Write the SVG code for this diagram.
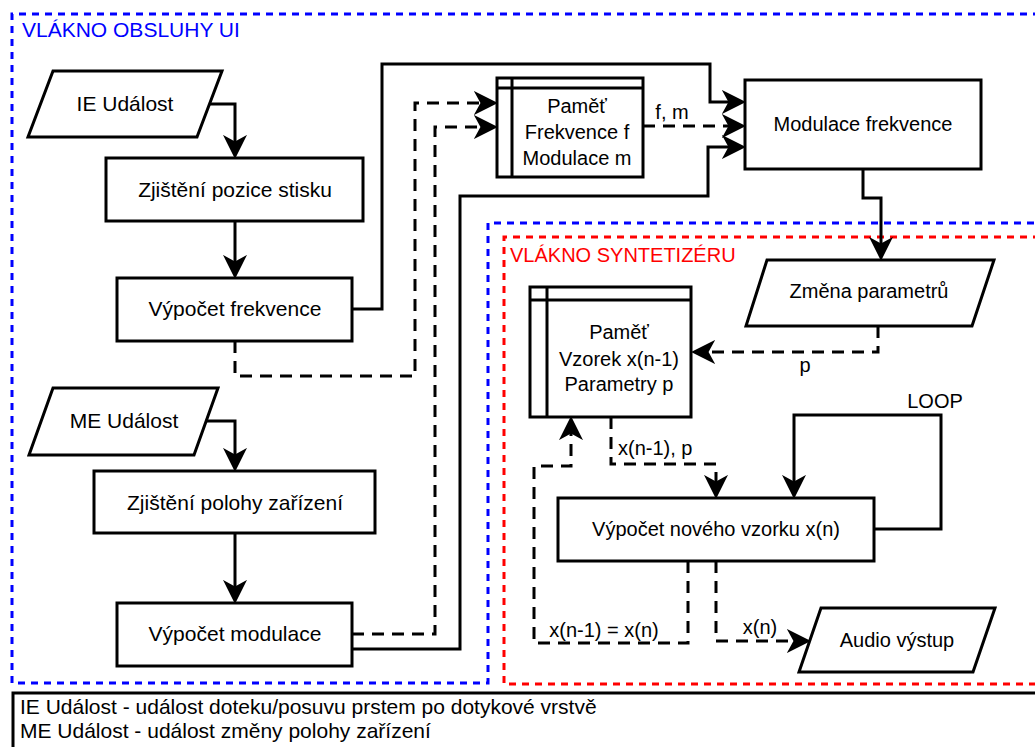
<svg xmlns="http://www.w3.org/2000/svg" width="1035" height="747" viewBox="0 0 1035 747">
  <style>
    text { font-family: "Liberation Sans", Arial, sans-serif; font-size: 20px; fill: #000; }
    .c { text-anchor: middle; }
    .big { font-size: 21px; }
    .shape { fill: #fff; stroke: #000; stroke-width: 3; }
    .inner { fill: none; stroke: #000; stroke-width: 3; }
    .flow { fill: none; stroke: #000; stroke-width: 3; marker-end: url(#arrow); }
    .dash { stroke-dasharray: 12 8; }
    .zone { fill: none; stroke-width: 3; stroke-dasharray: 7 6; }
  </style>
  <defs>
    <marker id="arrow" markerUnits="userSpaceOnUse" markerWidth="24" markerHeight="24" viewBox="0 0 22 22" refX="12" refY="11" orient="auto">
      <path d="M22,11 L0,0 L6,11 L0,22 Z" fill="#000"/>
    </marker>
  </defs>

  <rect width="1035" height="747" fill="#fff"/>

  <!-- thread zones -->
  <g id="zone-ui">
    <path class="zone" stroke="#0000ff" d="M1040,14 H12 V683 H488 V223 H1040"/>
    <text x="22" y="37" class="big" style="fill:#0000ff">VLÁKNO OBSLUHY UI</text>
  </g>
  <g id="zone-synth">
    <path class="zone" stroke="#ff0000" d="M1040,237 H504 V684 H1040"/>
    <text x="510" y="262" style="fill:#ff0000">VLÁKNO SYNTETIZÉRU</text>
  </g>

  <!-- connectors -->
  <g id="connectors">
    <path class="flow" d="M210,104 H235 V148"/>
    <path class="flow" d="M235,221 V268"/>
    <path class="flow" d="M352,309 H382 V64 H710 V102 H735"/>
    <path class="flow dash" d="M235,341 V376 H415 V103 H487"/>
    <path class="flow" d="M206,421 H235 V461"/>
    <path class="flow" d="M235,533 V593"/>
    <path class="flow dash" d="M352,634 H435 V127 H487"/>
    <path class="flow" d="M352,649 H460 V196 H708 V147 H735"/>
    <path class="flow dash" d="M643,126 H735"/>
    <text x="672" y="119" class="c">f, m</text>
    <path class="flow" d="M863,169 V198 H881 V250"/>
    <path class="flow dash" d="M878,326 V352 H702"/>
    <text x="805" y="372" class="c">p</text>
    <path class="flow dash" d="M611,417 V464 H716 V488"/>
    <text x="618" y="455">x(n-1), p</text>
    <path class="flow" d="M874,529 H941 V415 H794 V488"/>
    <text x="935" y="408" class="c">LOOP</text>
    <path class="flow dash" d="M688,561 V643 H534 V466 H571 V427"/>
    <text x="604" y="637" class="c">x(n-1) = x(n)</text>
    <path class="flow dash" d="M716,561 V641 H800"/>
    <text x="760" y="634" class="c">x(n)</text>
  </g>

  <!-- UI thread nodes -->
  <g id="ie-udalost">
    <polygon class="shape" points="53,71 222,71 197,137 28,137"/>
    <text x="125" y="111" class="c big">IE Událost</text>
  </g>
  <g id="zjisteni-pozice">
    <rect class="shape" x="106" y="158" width="257" height="63"/>
    <text x="235" y="197" class="c big">Zjištění pozice stisku</text>
  </g>
  <g id="vypocet-frekvence">
    <rect class="shape" x="117" y="278" width="235" height="63"/>
    <text x="235" y="316" class="c big">Výpočet frekvence</text>
  </g>
  <g id="me-udalost">
    <polygon class="shape" points="53,388 218,388 194,455 29,455"/>
    <text x="124" y="428" class="c big">ME Událost</text>
  </g>
  <g id="zjisteni-polohy">
    <rect class="shape" x="94" y="471" width="281" height="62"/>
    <text x="235" y="510" class="c big">Zjištění polohy zařízení</text>
  </g>
  <g id="vypocet-modulace">
    <rect class="shape" x="117" y="603" width="235" height="63"/>
    <text x="235" y="641" class="c big">Výpočet modulace</text>
  </g>
  <g id="pamet-ui">
    <rect class="shape" x="497" y="78" width="146" height="99"/>
    <path class="inner" d="M512,78 V177 M497,88 H643"/>
    <text x="577" y="113" class="c">Paměť</text>
    <text x="577" y="139" class="c">Frekvence f</text>
    <text x="577" y="165" class="c">Modulace m</text>
  </g>
  <g id="modulace-frekvence">
    <rect class="shape" x="745" y="80" width="236" height="89"/>
    <text x="863" y="131" class="c">Modulace frekvence</text>
  </g>

  <!-- synthesizer thread nodes -->
  <g id="zmena-parametru">
    <polygon class="shape" points="767,260 994,260 972,326 746,326"/>
    <text x="869" y="298" class="c">Změna parametrů</text>
  </g>
  <g id="pamet-synth">
    <rect class="shape" x="530" y="287" width="161" height="130"/>
    <path class="inner" d="M547,287 V417 M530,300 H691"/>
    <text x="619" y="339" class="c">Paměť</text>
    <text x="619" y="366" class="c">Vzorek x(n-1)</text>
    <text x="619" y="391" class="c">Parametry p</text>
  </g>
  <g id="vypocet-vzorku">
    <rect class="shape" x="558" y="498" width="316" height="63"/>
    <text x="716" y="536" class="c">Výpočet nového vzorku x(n)</text>
  </g>
  <g id="audio-vystup">
    <polygon class="shape" points="821,608 995,608 973,672 799,672"/>
    <text x="897" y="647" class="c">Audio výstup</text>
  </g>

  <!-- legend -->
  <g id="legend">
    <rect class="shape" x="13" y="693" width="1040" height="70"/>
    <text x="20" y="714" class="big">IE Událost - událost doteku/posuvu prstem po dotykové vrstvě</text>
    <text x="20" y="738" class="big">ME Událost - událost změny polohy zařízení</text>
  </g>
</svg>
